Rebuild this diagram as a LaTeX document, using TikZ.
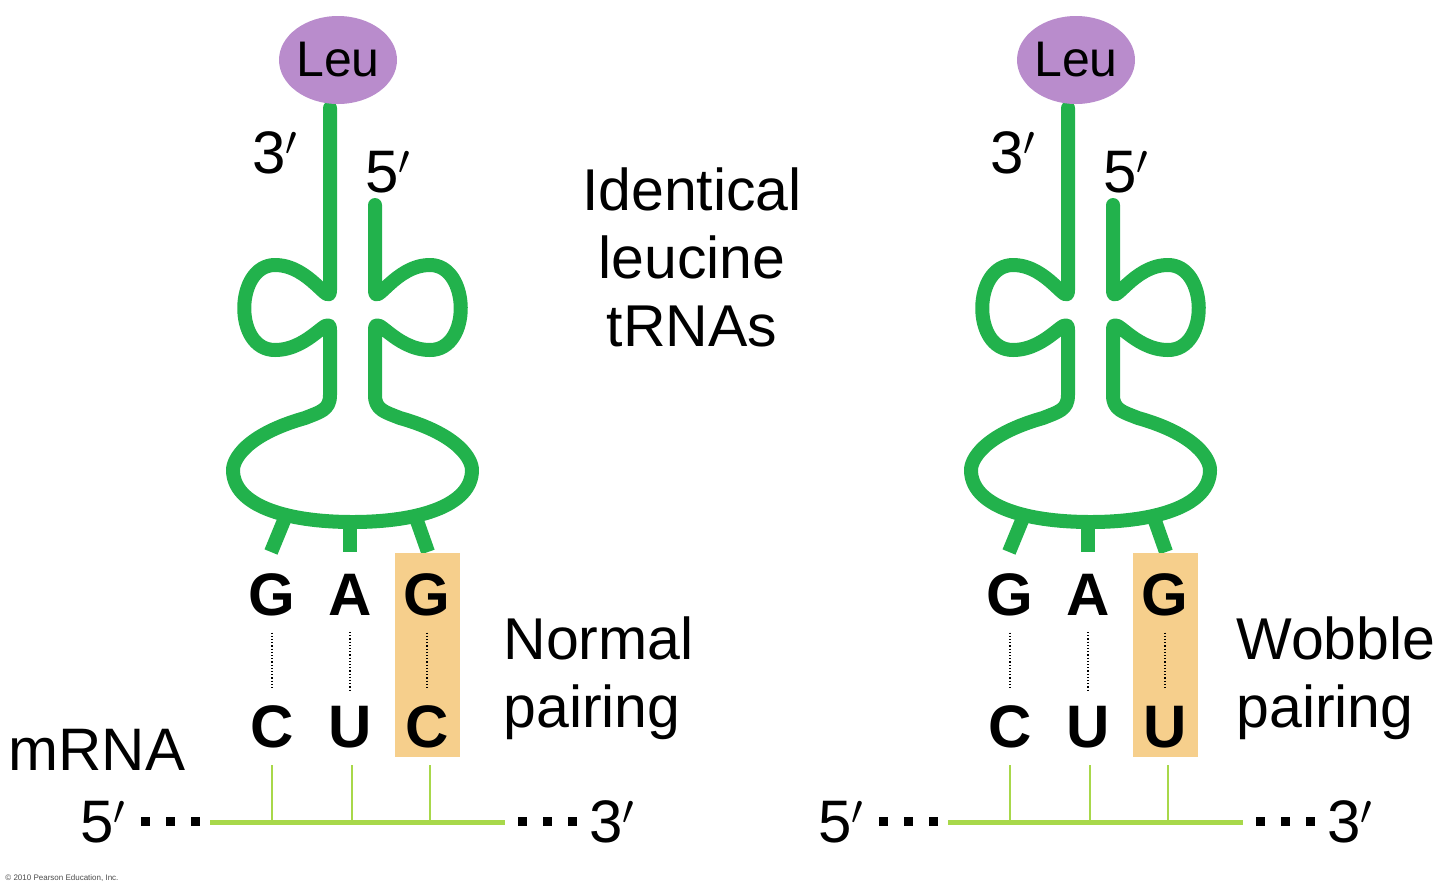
\documentclass[tikz,border=0pt]{standalone}
\usepackage{fontspec}
\setmainfont{Liberation Sans}
\usetikzlibrary{shapes.geometric}
\definecolor{trg}{HTML}{22B24C}
\definecolor{mg}{HTML}{A8D84A}
\definecolor{leu}{HTML}{B98CCC}
\definecolor{box}{HTML}{F6CF8C}
\begin{document}
\begin{tikzpicture}[x=0.5pt,y=-0.5pt,
  tr/.style={draw=trg,line width=7pt,line cap=round,line join=round},
  lab/.style={font=\fontsize{29.5}{34}\selectfont,align=left,inner sep=0},
  base/.style={font=\fontsize{30}{30}\selectfont\bfseries,inner sep=0},
  pr/.style={font=\fontsize{30}{30}\selectfont,inner sep=0}]
\useasboundingbox (0,0) rectangle (1440,895);
\newcommand{\rightpath}{(375,205) -- (375,290) .. controls (375,308) and (395,265) .. (430,265)
 .. controls (470,265) and (472,350) .. (430,350) .. controls (395,350) and (375,312) .. (375,330)
 -- (375,395) .. controls (375,410) and (385,412) .. (400,418) .. controls (460,435) and (472,460) .. (472,470)
 .. controls (472,505) and (420,522) .. (352.5,522)}
\newcommand{\leftpath}{(330,108) -- (330,290) .. controls (330,308) and (310,265) .. (275,265)
 .. controls (235,265) and (233,350) .. (275,350) .. controls (310,350) and (330,312) .. (330,330)
 -- (330,395) .. controls (330,410) and (320,412) .. (305,418) .. controls (245,435) and (233,460) .. (233,470)
 .. controls (233,505) and (285,522) .. (352.5,522)}
\foreach \off/\tag/\wl in {0/L/C,738/R/U}{
\begin{scope}[xshift=\off*0.5pt]
 \draw[tr] \rightpath;
 \draw[tr] \leftpath;
 \node[draw=none,fill=leu,ellipse,minimum width=59pt,minimum height=44pt,inner sep=0] (leu\tag) at (338,60) {};
 \node[pr,font=\fontsize{25}{25}\selectfont] at (leu\tag) {Leu};
 \node[pr] (tp\tag) at (275,153) {3$'$};
 \node[pr] (fp\tag) at (388,172) {5$'$};
 \draw[tr,line cap=butt] (285,518) -- (271,552);
 \draw[tr,line cap=butt] (350,522) -- (350,552);
 \draw[tr,line cap=butt] (416,518) -- (428,552);
 \fill[box] (395,553) rectangle (460,757);
 \foreach \x/\a/\b [count=\i] in {272/G/C,350/A/U,427/G/\wl}{
   \node[base] (t\tag\i) at (\x,595) {\a};
   \node[base] (m\tag\i) at (\x,727) {\b};
   \draw[densely dotted,line width=0.6pt] ([yshift=-8]t\tag\i.south) -- ([yshift=8]m\tag\i.north);
 }
 \draw[mg,line width=2.5pt] (210,822) coordinate (ms\tag) -- (505,822) coordinate (me\tag);
 \foreach \x in {272,352,430} \draw[mg,line width=1.2pt] (\x,765) -- (\x,822);
 \foreach \x in {145,170,195,522,547,572} \fill (\x-4.5,817) rectangle (\x+4.5,826);
 \node[pr] (f5\tag) at (103,822) {5$'$};
 \node[pr] (f3\tag) at (612,822) {3$'$};
\end{scope}}
\node[lab,align=center] (id) at (692,257) {Identical\\leucine\\tRNAs};
\node[lab,anchor=west] (np) at (503,678) {Normal\\pairing};
\node[lab,anchor=west] (wp) at (1236,678) {Wobble\\pairing};
\node[pr,anchor=west] (mr) at (8,750) {mRNA};
\node[anchor=west,inner sep=0,font=\fontsize{4}{4}\selectfont,text=black!70] (cp) at (5,878) {© 2010 Pearson Education, Inc.};
\end{tikzpicture}
\end{document}
